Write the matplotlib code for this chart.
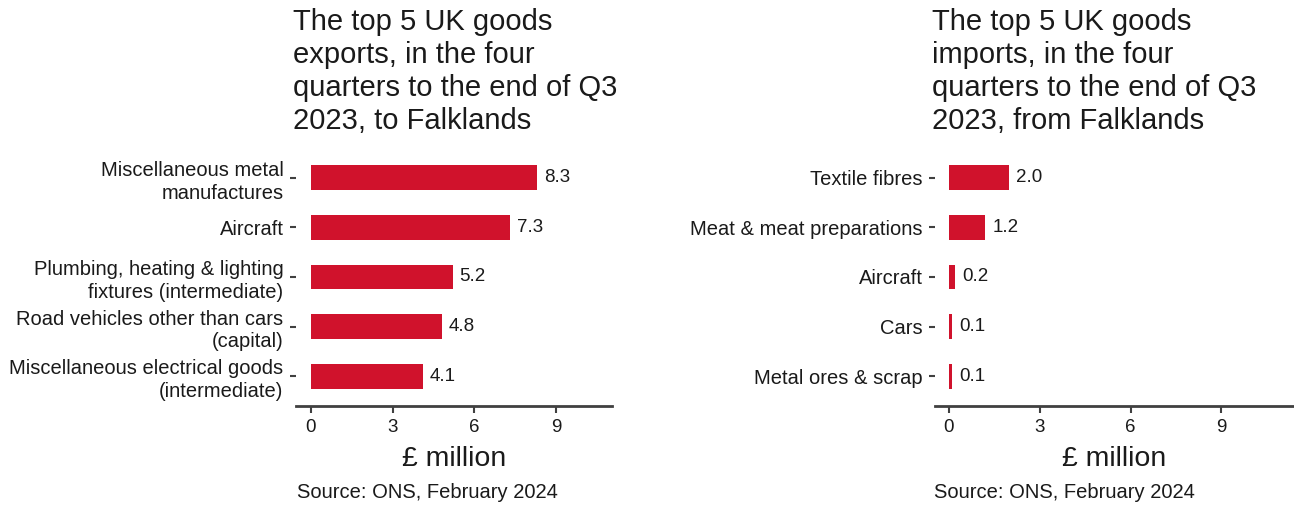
import matplotlib
matplotlib.use('Agg')
import matplotlib.pyplot as plt

plt.rcParams['font.family'] = ['Liberation Sans', 'DejaVu Sans']

# Exports to Falklands (top to bottom)
export_labels = ['Miscellaneous metal\nmanufactures', 'Aircraft',
                 'Plumbing, heating & lighting\nfixtures (intermediate)',
                 'Road vehicles other than cars\n(capital)',
                 'Miscellaneous electrical goods\n(intermediate)']
export_values = [8.3, 7.3, 5.2, 4.8, 4.1]

# Imports from Falklands (top to bottom)
import_labels = ['Textile fibres', 'Meat & meat preparations', 'Aircraft', 'Cars', 'Metal ores & scrap']
import_values = [2.0, 1.2, 0.2, 0.1, 0.1]

titles = ['The top 5 UK goods\nexports, in the four\nquarters to the end of Q3\n2023, to Falklands',
          'The top 5 UK goods\nimports, in the four\nquarters to the end of Q3\n2023, from Falklands']
x_ticks = [0, 3, 6, 9]
source = 'Source: ONS, February 2024'

bar_color = '#D0122C'
axis_color = '#404040'
text_color = '#1a1a1a'

W, H = 1294, 507
fig = plt.figure(figsize=(W / 100, H / 100), dpi=100)

# axes boxes in pixels: left, right, top, bottom
boxes = [(296, 612, 148, 406), (935, 1294, 148, 406)]
xlims = [(-0.55, 11.05), (-0.46, 11.4)]
title_x = [293, 932]
source_x = [297, 934]

panels = [(export_labels, export_values), (import_labels, import_values)]

for i, (labels, values) in enumerate(panels):
    l, r, t, b = boxes[i]
    ax = fig.add_axes([l / W, (H - b) / H, (r - l) / W, (b - t) / H])
    ypos = list(range(len(values), 0, -1))
    ax.barh(ypos, values, height=0.5, color=bar_color)
    for y, v in zip(ypos, values):
        ax.annotate(f'{v:.1f}', (v, y), xytext=(5, 0), textcoords='offset points',
                    va='center', ha='left', fontsize=13.5, color=text_color)
    ax.set_ylim(0.4, len(values) + 0.6)
    ax.set_xlim(*xlims[i])
    ax.set_yticks(ypos)
    ax.set_yticklabels(labels, fontsize=14.5, color=text_color, ha='right', linespacing=1.25)
    ax.set_xticks(x_ticks)
    ax.set_xticklabels([str(x) for x in x_ticks], fontsize=13.5, color=text_color)
    for side in ['top', 'right', 'left']:
        ax.spines[side].set_visible(False)
    ax.spines['bottom'].set_color(axis_color)
    ax.spines['bottom'].set_linewidth(2)
    ax.tick_params(axis='y', length=4, width=1.5, color=axis_color, pad=5)
    ax.tick_params(axis='x', length=5, width=1.5, color=axis_color, direction='out', pad=4)
    ax.set_xlabel('£ million', fontsize=20.5, color=text_color)
    ax.xaxis.set_label_coords(0.5, -(459 - b) / (b - t), transform=ax.transAxes)
    ax.xaxis.label.set_va('center')
    ax.set_facecolor('white')

    fig.text(title_x[i] / W, 1 - 8 / H, titles[i], fontsize=21, color=text_color,
             ha='left', va='top', linespacing=1.22)
    fig.text(source_x[i] / W, 1 - 492 / H, source, fontsize=14.5, color=text_color,
             ha='left', va='center')

fig.savefig('out.png', dpi=100, facecolor='white')
